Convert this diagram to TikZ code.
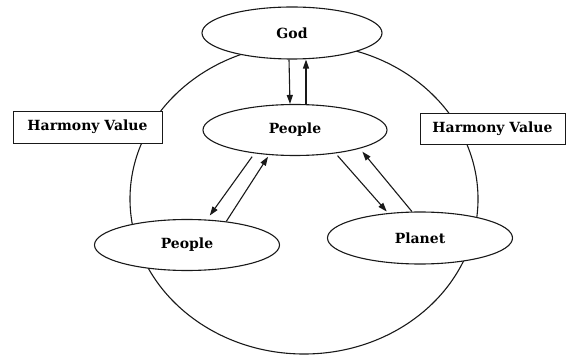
\documentclass[tikz,border=0pt]{standalone}
\usepackage{fontspec}
\setmainfont{DejaVu Serif}
\usetikzlibrary{arrows.meta, shapes.geometric}
\tikzset{
  oval/.style={ellipse, draw=black!90, line width=1.1pt, fill=white, inner sep=0pt,
               font=\bfseries\fontsize{14}{16}\selectfont},
  hvbox/.style={rectangle, draw=black!90, line width=0.9pt, fill=white, inner sep=0pt,
                font=\bfseries\fontsize{14}{16}\selectfont},
  flow/.style={-{Triangle[length=9pt, width=6pt]}, line width=1.1pt, draw=black!90},
  ring/.style={line width=1.1pt, draw=black!90},
}

\begin{document}
\begin{tikzpicture}[x=1pt, y=-1pt]
  \useasboundingbox (0,0) rectangle (567,355);
  % big ring behind everything
  \draw[ring] (304,199) ellipse [x radius=174, y radius=155];
  \node[hvbox, minimum width=149, minimum height=32] (hvl) at (87.5,127) {Harmony Value};
  \node[hvbox, minimum width=145, minimum height=31] (hvr) at (492.5,128.5) {Harmony Value};
  \node[oval, minimum width=180, minimum height=52] (god) at (292,33) {God};
  \node[oval, minimum width=184, minimum height=51] (ppl) at (295,130) {People};
  \node[oval, minimum width=185, minimum height=51] (pleft) at (187,245) {People};
  \node[oval, minimum width=185, minimum height=52] (planet) at (420,238) {Planet};
  % arrows
  \draw[flow] ([xshift=-3pt]god.south) -- ([xshift=-5pt]ppl.north);
  \draw[flow] ([xshift=11pt]ppl.north) -- ([xshift=14pt]god.south);
  \draw[flow, shorten <=4pt, shorten >=5pt] (ppl.210) -- (pleft.52);
  \draw[flow, shorten >=2pt] (pleft.31) -- (ppl.224);
  \draw[flow, shorten <=3pt, shorten >=2pt] (ppl.330) -- (planet.142);
  \draw[flow, shorten >=4pt] (planet.107) -- (ppl.344);
\end{tikzpicture}
\end{document}
